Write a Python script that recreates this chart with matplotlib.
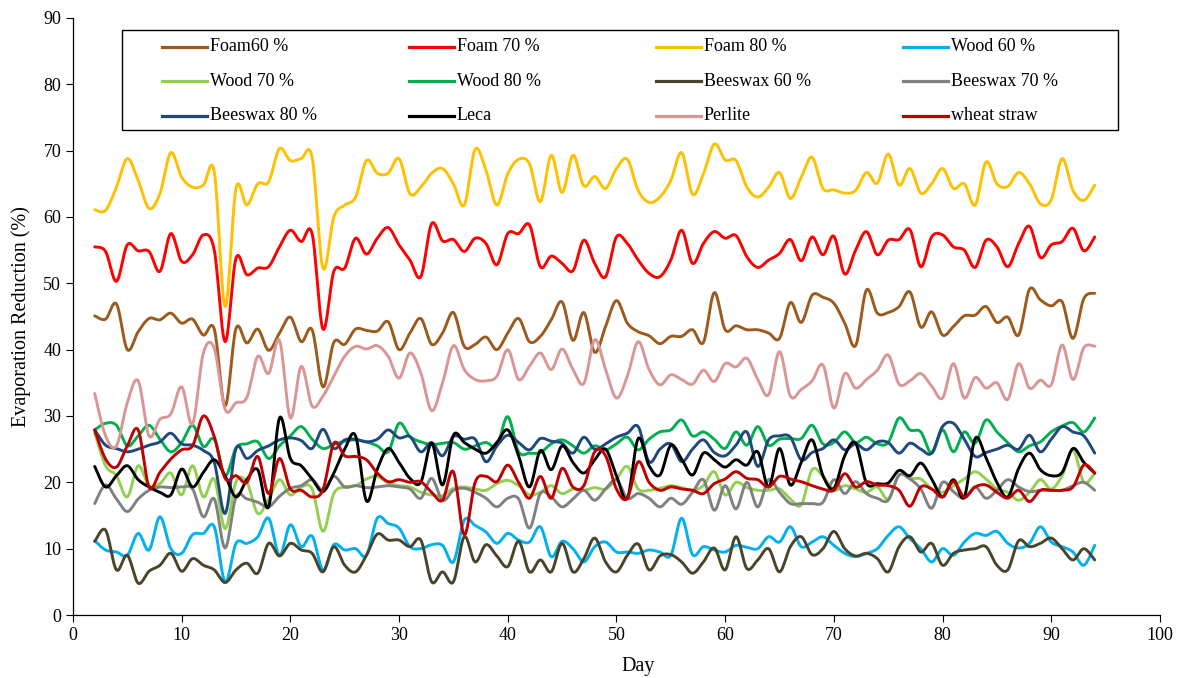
import matplotlib
matplotlib.use("Agg")
import matplotlib.pyplot as plt
from matplotlib.lines import Line2D
from matplotlib.patches import Rectangle
import numpy as np

plt.rcParams['font.family'] = ['Liberation Serif', 'DejaVu Serif']

days = list(range(2, 95))

foam60 = [45.1, 44.6, 46.9, 40.0, 42.7, 44.7, 44.5, 45.5, 44.0, 44.6,
          42.2, 43.1, 31.5, 43.2, 41.0, 43.1, 39.9, 42.5, 44.9, 41.2,
          43.0, 34.4, 41.1, 40.8, 43.1, 42.9, 42.8, 44.2, 40.0, 42.5,
          44.7, 40.8, 42.5, 45.6, 40.5, 40.8, 41.9, 40.0, 42.5, 44.7,
          41.2, 42.0, 44.5, 47.2, 41.4, 45.6, 39.6, 43.5, 47.4, 44.0,
          42.7, 42.1, 40.9, 42.0, 42.0, 43.0, 41.1, 48.6, 43.0, 43.6,
          43.0, 43.0, 42.5, 41.7, 47.1, 44.1, 48.2, 47.9, 47.0, 44.0,
          40.6, 49.0, 45.5, 45.6, 46.5, 48.7, 43.4, 45.7, 42.2, 43.5,
          45.1, 45.2, 46.5, 44.1, 44.9, 42.2, 49.1, 47.5, 46.6, 47.2,
          41.7, 47.7, 48.5]
foam70 = [55.5, 54.8, 50.3, 55.8, 54.9, 54.8, 51.8, 57.5, 53.3, 54.3,
          57.3, 55.0, 41.2, 53.8, 51.3, 52.3, 52.5, 55.5, 58.0, 56.3,
          57.5, 43.1, 51.8, 52.3, 56.8, 54.4, 56.8, 58.4, 55.8, 53.5,
          51.0, 59.0, 56.4, 56.6, 54.8, 56.8, 56.0, 52.8, 57.5, 57.5,
          58.8, 52.5, 54.1, 53.0, 51.9, 56.5, 53.0, 51.0, 57.0, 56.0,
          53.5, 51.5, 51.0, 53.5, 58.0, 53.0, 56.0, 57.8, 56.8, 57.2,
          54.0, 52.4, 53.5, 54.5, 56.6, 53.4, 57.0, 54.3, 57.1, 51.4,
          55.0, 57.8, 54.3, 56.5, 56.6, 58.1, 52.5, 57.0, 57.3, 55.5,
          55.0, 52.4, 56.5, 55.5, 52.5, 56.0, 58.6, 53.9, 55.8, 56.3,
          58.3, 54.9, 57.0]
foam80 = [61.1, 61.0, 64.5, 68.8, 65.5, 61.3, 63.5, 69.7, 66.0, 64.5,
          64.8, 66.8, 46.5, 64.3, 61.8, 65.0, 65.3, 70.3, 68.5, 68.8,
          69.0, 52.3, 60.0, 61.8, 63.0, 68.5, 66.6, 66.6, 68.8, 63.5,
          64.5, 66.6, 67.3, 65.0, 61.8, 70.2, 67.0, 61.8, 66.5, 68.7,
          68.0, 62.3, 69.3, 63.7, 69.3, 64.7, 66.1, 64.3, 67.3, 68.7,
          64.0, 62.2, 63.0, 65.5, 69.7, 63.4, 66.5, 71.0, 68.6, 68.5,
          64.5, 63.0, 64.5, 66.7, 62.8, 66.0, 69.0, 64.3, 64.1, 63.6,
          64.0, 66.7, 65.1, 69.5, 64.8, 67.3, 63.6, 65.0, 67.3, 64.3,
          65.0, 61.8, 68.3, 65.0, 64.6, 66.7, 65.0, 62.0, 62.6, 68.8,
          64.0, 62.5, 64.8]
wood60 = [11.2, 9.8, 9.5, 9.0, 12.3, 9.8, 14.8, 10.0, 9.3, 12.1,
          12.3, 13.3, 5.0, 10.8, 10.8, 11.8, 14.6, 9.0, 13.6, 10.3,
          11.9, 6.8, 10.6, 9.8, 10.0, 9.0, 14.6, 13.8, 13.1, 10.3,
          10.0, 10.6, 10.5, 8.0, 14.3, 13.5, 12.5, 10.8, 12.3, 11.3,
          11.0, 13.3, 8.8, 11.1, 10.0, 8.0, 10.3, 11.0, 9.5, 9.5,
          9.3, 9.8, 9.5, 9.0, 14.6, 9.1, 10.3, 9.8, 9.5, 10.5,
          10.2, 10.0, 11.8, 11.0, 13.3, 10.3, 11.0, 11.8, 10.5, 9.3,
          8.8, 9.3, 10.0, 12.0, 13.3, 11.5, 10.0, 8.0, 10.0, 9.0,
          11.0, 12.3, 12.0, 12.6, 10.8, 10.1, 10.8, 13.3, 11.0, 10.3,
          9.5, 7.5, 10.5]
wood70 = [27.5, 22.5, 21.0, 17.8, 22.5, 19.5, 19.8, 21.4, 18.1, 22.5,
          17.8, 20.5, 13.0, 20.1, 20.0, 15.3, 17.5, 20.4, 18.1, 19.3,
          19.0, 12.6, 18.3, 19.3, 19.5, 20.5, 20.9, 19.9, 19.5, 19.3,
          18.5, 18.1, 18.0, 19.1, 19.3, 19.0, 18.8, 19.8, 20.3, 19.5,
          18.1, 18.5, 19.5, 18.3, 19.0, 18.8, 19.2, 19.0, 20.5, 22.4,
          19.0, 18.8, 19.1, 19.5, 19.2, 18.8, 19.5, 21.6, 18.1, 20.0,
          19.2, 18.8, 18.8, 19.0, 17.5, 16.6, 21.9, 20.9, 18.8, 19.5,
          19.0, 18.5, 19.3, 17.5, 21.1, 20.6, 20.5, 19.0, 18.5, 19.5,
          20.5, 21.6, 20.5, 19.0, 18.5, 17.3, 18.5, 20.4, 19.0, 21.0,
          24.9, 20.0, 21.4]
wood80 = [27.9, 28.9, 28.6, 25.5, 27.0, 28.6, 26.5, 24.6, 26.0, 28.6,
          25.4, 26.5, 21.0, 25.2, 25.8, 26.1, 23.6, 25.5, 27.0, 28.4,
          26.5, 25.1, 25.7, 26.2, 26.4, 26.1, 25.5, 24.6, 28.9, 26.9,
          26.1, 25.7, 25.9, 26.0, 25.0, 25.5, 26.0, 25.5, 29.9, 24.6,
          24.4, 24.5, 25.8, 26.4, 25.5, 24.4, 25.5, 24.9, 25.8, 26.8,
          24.9, 26.5, 27.6, 27.9, 29.4, 27.0, 27.6, 26.5, 25.1, 27.6,
          25.6, 28.4, 25.6, 26.5, 26.6, 26.6, 28.6, 25.8, 26.0, 27.6,
          26.0, 26.8, 25.8, 26.0, 29.7, 27.9, 27.6, 24.4, 27.9, 24.6,
          27.6, 25.9, 29.4, 27.6, 26.0, 24.6, 25.5, 26.1, 27.6, 28.5,
          29.0, 27.6, 29.7]
beeswax60 = [11.1, 12.8, 6.8, 9.0, 4.8, 6.6, 7.5, 9.3, 6.6, 8.5,
             7.5, 6.8, 4.9, 6.8, 7.8, 6.3, 10.8, 8.9, 10.8, 9.8,
             9.3, 6.5, 10.3, 7.5, 6.5, 9.0, 12.2, 11.3, 11.3, 10.3,
             11.3, 5.0, 6.5, 5.0, 11.8, 8.0, 10.6, 8.9, 7.3, 11.1,
             6.5, 8.3, 6.5, 10.8, 6.5, 8.5, 11.6, 8.0, 6.5, 9.0,
             10.7, 6.8, 8.9, 9.1, 8.0, 6.3, 8.0, 10.1, 6.8, 11.8,
             7.0, 8.3, 10.0, 6.5, 10.3, 11.8, 9.1, 10.0, 12.6, 10.0,
             8.9, 9.3, 8.5, 6.5, 10.3, 11.8, 9.5, 10.8, 7.5, 9.3,
             9.8, 10.0, 10.3, 7.5, 6.8, 11.2, 10.3, 10.8, 11.6, 10.0,
             8.3, 10.0, 8.3]
beeswax70 = [16.8, 19.6, 17.5, 15.6, 17.5, 18.8, 19.3, 19.2, 19.3, 19.0,
             14.8, 17.5, 10.1, 17.8, 17.5, 17.0, 16.3, 17.9, 19.1, 19.5,
             20.4, 18.8, 20.9, 19.3, 19.5, 19.2, 19.3, 19.5, 19.3, 19.0,
             17.6, 20.6, 17.3, 18.8, 19.1, 18.5, 17.6, 16.3, 17.6, 17.5,
             13.1, 18.3, 17.8, 16.3, 17.5, 18.8, 17.3, 19.0, 20.4, 17.6,
             18.3, 17.6, 16.3, 17.6, 16.7, 18.5, 20.4, 15.8, 19.5, 16.0,
             20.0, 16.3, 20.4, 18.5, 16.8, 16.8, 16.8, 17.0, 20.4, 18.3,
             20.1, 18.3, 17.6, 17.3, 21.1, 20.5, 19.0, 16.1, 20.0, 18.6,
             17.6, 19.3, 17.6, 18.8, 20.4, 19.3, 18.6, 18.8, 18.8, 18.8,
             19.5, 20.0, 18.8]
beeswax80 = [27.9, 25.6, 25.1, 24.6, 25.0, 25.6, 26.1, 27.4, 25.8, 25.6,
             24.8, 23.0, 15.3, 25.1, 23.6, 24.8, 25.5, 26.4, 26.7, 26.3,
             25.1, 28.0, 25.1, 26.4, 26.5, 26.1, 26.5, 27.9, 26.7, 26.9,
             24.6, 26.0, 24.0, 26.9, 26.5, 26.5, 23.1, 25.5, 27.1, 26.0,
             24.9, 26.6, 26.2, 25.9, 24.4, 26.8, 25.0, 25.8, 26.8, 27.4,
             28.4, 23.1, 25.0, 25.8, 23.1, 25.0, 26.4, 24.5, 24.0, 25.6,
             27.6, 22.4, 26.4, 27.0, 26.8, 23.4, 24.5, 25.1, 26.4, 24.9,
             25.8, 24.9, 26.1, 26.0, 24.4, 25.9, 25.0, 24.4, 28.4, 28.9,
             26.5, 23.9, 24.5, 25.0, 25.6, 25.0, 27.1, 24.6, 26.5, 28.4,
             27.6, 27.0, 24.4]
leca = [22.4, 19.3, 21.0, 22.5, 20.4, 19.3, 18.5, 18.1, 22.0, 19.3,
        21.5, 23.4, 21.0, 17.8, 20.4, 21.9, 16.3, 29.7, 23.6, 22.5,
        20.5, 18.6, 21.4, 25.0, 27.0, 17.2, 22.0, 25.1, 23.0, 20.6,
        20.0, 25.9, 19.6, 27.1, 26.0, 25.0, 24.4, 26.0, 27.9, 24.0,
        19.3, 24.8, 21.9, 25.5, 23.0, 21.4, 23.4, 25.0, 21.0, 17.6,
        26.6, 22.5, 21.1, 25.6, 23.5, 21.1, 24.4, 23.4, 22.3, 23.4,
        22.6, 24.6, 19.3, 25.1, 19.6, 23.0, 26.4, 21.0, 19.1, 24.0,
        25.9, 19.9, 19.8, 19.9, 21.8, 21.0, 22.9, 20.5, 17.8, 20.4,
        17.8, 26.6, 23.7, 20.0, 17.8, 22.1, 24.4, 21.9, 21.0, 21.5,
        25.1, 23.0, 21.4]
perlite = [33.4, 27.0, 25.5, 32.0, 35.3, 27.0, 29.5, 30.3, 34.4, 28.8,
           39.5, 40.2, 31.0, 32.0, 32.8, 39.0, 36.4, 41.4, 29.7, 37.5,
           31.5, 33.0, 36.0, 39.0, 40.5, 40.1, 40.6, 39.0, 35.7, 39.5,
           36.5, 30.8, 35.0, 40.6, 37.0, 35.5, 35.3, 36.0, 40.0, 35.5,
           37.5, 39.5, 37.0, 40.1, 37.0, 34.9, 41.5, 37.0, 32.7, 36.0,
           41.2, 37.0, 34.7, 36.2, 35.5, 34.8, 36.9, 35.2, 37.9, 37.4,
           38.7, 35.5, 33.2, 39.7, 33.0, 34.0, 35.3, 37.7, 31.2, 36.4,
           34.2, 35.5, 36.9, 39.2, 34.8, 35.3, 36.4, 34.5, 32.7, 37.9,
           32.7, 35.8, 34.2, 35.0, 32.5, 37.9, 34.2, 35.4, 34.7, 40.7,
           35.5, 40.3, 40.5]
wheat_straw = [27.9, 23.5, 22.3, 25.5, 27.9, 19.3, 21.5, 23.5, 24.9, 25.5,
               30.0, 26.9, 20.6, 21.0, 20.0, 23.9, 18.3, 23.6, 19.0, 18.8,
               17.8, 18.9, 25.9, 24.0, 23.9, 23.4, 21.4, 20.1, 20.4, 20.0,
               20.1, 18.5, 17.3, 21.6, 12.1, 20.0, 20.9, 20.1, 22.6, 20.0,
               17.6, 20.9, 17.6, 22.1, 19.3, 19.5, 24.6, 24.0, 19.0, 17.6,
               23.1, 20.0, 18.8, 19.3, 19.0, 18.8, 18.3, 19.8, 20.5, 21.6,
               20.6, 20.4, 19.3, 20.9, 20.5, 20.1, 19.5, 19.0, 18.8, 21.3,
               19.3, 20.1, 19.6, 19.5, 18.8, 16.4, 19.3, 19.0, 17.8, 20.1,
               17.8, 19.3, 19.6, 18.5, 17.6, 18.8, 17.1, 18.8, 18.8, 18.8,
               19.3, 22.6, 21.4]

series = [
    ('Foam60 %', foam60, '#9C5A1C'),
    ('Foam 70 %', foam70, '#FF0000'),
    ('Foam 80 %', foam80, '#FFC000'),
    ('Wood 60 %', wood60, '#00B0F0'),
    ('Wood 70 %', wood70, '#92D050'),
    ('Wood 80 %', wood80, '#00B050'),
    ('Beeswax 60 %', beeswax60, '#4A452A'),
    ('Beeswax 70 %', beeswax70, '#808080'),
    ('Beeswax 80 %', beeswax80, '#1F497D'),
    ('Leca', leca, '#000000'),
    ('Perlite', perlite, '#DA9694'),
    ('wheat straw', wheat_straw, '#C00000'),
]


def smooth(x, y, n=14):
    # smoothed line like Excel: Catmull-Rom segments as cubic Bezier
    x = np.asarray(x, float)
    y = np.asarray(y, float)
    xp = np.concatenate([[x[0]], x, [x[-1]]])
    yp = np.concatenate([[y[0]], y, [y[-1]]])
    t = np.linspace(0, 1, n, endpoint=False)[:, None]
    out_x, out_y = [], []
    for i in range(len(x) - 1):
        p0 = np.array([xp[i], yp[i]])
        p1 = np.array([xp[i + 1], yp[i + 1]])
        p2 = np.array([xp[i + 2], yp[i + 2]])
        p3 = np.array([xp[i + 3], yp[i + 3]])
        b1 = p1 + (p2 - p0) / 6
        b2 = p2 - (p3 - p1) / 6
        pts = ((1 - t) ** 3) * p1 + 3 * ((1 - t) ** 2) * t * b1 + 3 * (1 - t) * t ** 2 * b2 + t ** 3 * p2
        out_x.append(pts[:, 0])
        out_y.append(pts[:, 1])
    out_x.append([x[-1]])
    out_y.append([y[-1]])
    return np.concatenate(out_x), np.concatenate(out_y)


fig = plt.figure(figsize=(11.92, 6.78), dpi=100)
ax = fig.add_axes([0.0612, 0.0929, 0.9119, 0.8806])

for label, vals, color in series:
    sx, sy = smooth(days, vals)
    ax.plot(sx, sy, color=color, linewidth=2.1, label=label, solid_capstyle='round')

ax.set_xlim(0, 100)
ax.set_ylim(0, 90)
ax.set_xticks(range(0, 101, 10))
ax.set_yticks(range(0, 91, 10))
ax.tick_params(direction='out', length=5, labelsize=13, colors='black')
for s in ['top', 'right']:
    ax.spines[s].set_visible(False)
for s in ['left', 'bottom']:
    ax.spines[s].set_color('#000000')
    ax.spines[s].set_linewidth(0.9)

ax.set_xlabel('Day', fontsize=14.5)
ax.set_ylabel('Evaporation Reduction (%)', fontsize=14.5)
ax.xaxis.set_label_coords(0.52, -0.07)
ax.yaxis.set_label_coords(-0.039, 0.5)

# legend box: 4 columns x 3 rows, evenly spaced like the original
ax.add_patch(Rectangle((0.0451, 0.8124), 0.9163, 0.1676, transform=ax.transAxes,
                       facecolor='white', edgecolor='black', linewidth=1.0, zorder=5))
for k, (label, vals, color) in enumerate(series):
    r, c = divmod(k, 4)
    ly = 0.9520 - r * 0.0578
    lx = 0.0819 + c * 0.2272
    ax.add_line(Line2D([lx, lx + 0.0414], [ly, ly], transform=ax.transAxes,
                       color=color, linewidth=2.3, zorder=6))
    ax.text(lx + 0.0441, ly, label, transform=ax.transAxes, va='center', ha='left',
            fontsize=13, zorder=6)

fig.savefig('out.png', dpi=100)
